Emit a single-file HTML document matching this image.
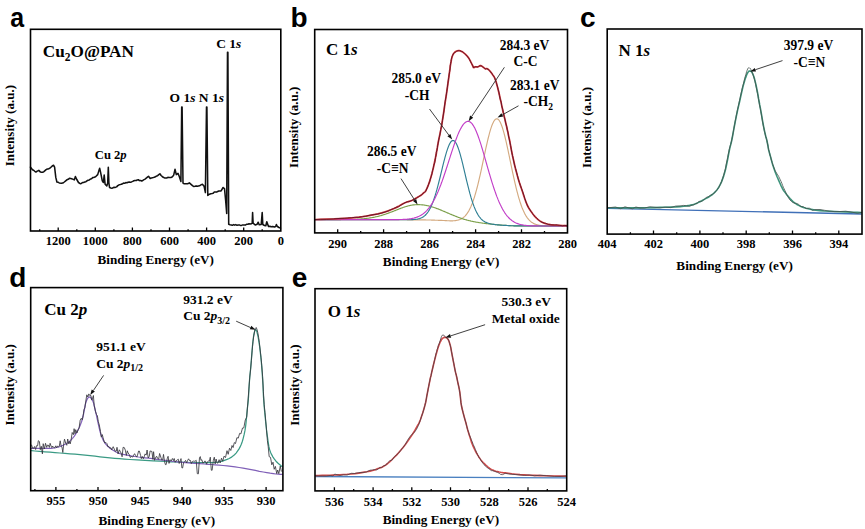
<!DOCTYPE html>
<html><head><meta charset="utf-8"><style>
html,body{margin:0;padding:0;background:#fff;}
svg{display:block;}
</style></head><body>
<svg width="865" height="529" viewBox="0 0 865 529">
<rect width="865" height="529" fill="#fff"/>
<text transform="translate(10.3,26.6) scale(0.89,1.02)" font-family="Liberation Sans" font-weight="bold" font-size="28">a</text>
<text x="42.8" y="56.9" font-family="Liberation Serif" font-weight="bold" font-size="17.2">Cu<tspan font-size="11.5" dy="3.8">2</tspan><tspan dy="-3.8">O@PAN</tspan></text>
<text x="216.2" y="48.3" font-family="Liberation Serif" font-weight="bold" font-size="13.5" text-anchor="start">C 1<tspan font-style="italic">s</tspan></text>
<text x="169.5" y="101.8" font-family="Liberation Serif" font-weight="bold" font-size="13.5" text-anchor="start">O 1<tspan font-style="italic">s</tspan> N 1<tspan font-style="italic">s</tspan></text>
<text x="94.8" y="158.6" font-family="Liberation Serif" font-weight="bold" font-size="12.6" text-anchor="start">Cu 2<tspan font-style="italic">p</tspan></text>
<polyline points="30.5,167.2 32.5,169.7 33.6,170.2 34.8,171.3 35.9,172 37.3,171.1 38.8,170.4 40.5,172.1 41.6,172.3 42.7,172.3 43.9,171.6 45,170.6 46.1,169.6 47.3,169 48.4,168.9 49.8,168.3 51.2,167 52.4,165.9 53.5,165.2 54.6,167.2 55.8,177.4 56.9,182 58,182.2 59.2,182.9 61.4,183.3 62.8,183.1 64.3,182 65.7,180.8 67.1,179.7 68.2,179.3 69.4,178.3 70.8,178.6 72.2,178.9 74.3,179.9 75.4,176.5 76.8,179.5 78.5,182.5 80.2,183.7 81.3,183.4 82.5,182.6 83.6,182.5 84.7,182.1 85.9,181.7 87,180.8 88.1,180.3 89.3,179.9 90.4,179.1 91.5,178.7 92.7,177.6 93.8,177.4 94.9,177.1 96,176.3 97.7,174.6 98.9,170.6 99.7,168.3 100.6,172.3 102.3,180.8 103.4,182.5 104.2,175.1 105.1,184.2 106.8,185.9 107.7,183.1 108.3,167.2 108.9,183.1 109.6,187.6 110.8,188 111.9,188.2 113,187.8 114.2,187.2 115.3,187.4 116.6,186.9 117.8,185.6 119.1,184.8 120.2,184.6 121.3,184.3 122.5,183.7 123.6,183.1 124.7,183.3 125.8,182.6 127,182.7 128.1,182.2 129.2,182 130.4,182.2 131.5,181.9 132.7,181.4 133.8,180.8 135,180.5 136.1,180.6 137.2,179.9 138.3,179.7 139.4,180.6 140.6,180.5 141.7,181 142.8,180.5 144,179.6 145.1,179.1 146.2,178.2 147.4,177.1 148.5,176.3 150.2,178.5 151.6,177.9 153.1,177.6 154.2,177.2 155.4,176.7 156.5,176.1 157.6,175.7 158.8,174.7 159.9,173.8 161.1,175.5 162.2,176.5 163.3,177.3 164.5,177.9 165.6,178 166.7,178 167.9,177.3 169,177.4 170.1,177.5 171.3,177.4 172.4,176.8 173.7,175.1 175,169.3 176.3,174.6 178,173.4 179.2,176.3 180.9,181.4 181.7,107 182.1,107 183,183.1 184.2,183.8 185.4,183.7 186.6,183.8 187.7,183.7 189.4,182.9 191.6,184.8 192.8,185.8 193.9,186.5 195,186.3 196.1,185.9 197.2,186.3 198.4,186 199.5,185.8 200.9,184.9 202.4,184.3 204.1,186.3 205.4,192.6 206.5,107 206.9,107 207.8,195.4 209.4,194.2 210.9,193.7 212,193.6 213.2,193.3 214.3,192.1 215.4,192 216.5,192.1 217.7,191.5 218.8,191 220,190.9 221.1,190.9 223.1,187.5 224.5,188.6 225.6,199.9 226.7,213.5 227.5,52.3 227.9,52.3 228.7,224.3 230,224.8 231.3,224.9 232.4,225.3 233.6,224.6 234.7,225.1 235.8,224.6 237,225.3 238.1,225.1 239.2,224.9 240.4,225.4 241.5,225.4 242.7,224.9 243.8,224.9 245.2,225.1 246.5,224.3 247.9,224.2 249,223.7 250.2,224 251.3,223.8 252.2,223.2 252.6,212.6 253.1,223.2 255.2,225 257.2,224.2 258.2,222.2 259.2,224.8 261.2,224.5 262.2,212.6 262.8,224.5 264.5,225.5 265.8,225.8 266.8,221.8 267.5,223.8 268.5,226.5 269.8,226.2 271.1,226.8 272.8,226.6 274.4,227 275.7,226.5 276.4,224.5 277.4,226.5 279,227.5 280.4,228.1" fill="none" stroke="#111" stroke-width="1.55" stroke-linejoin="round" stroke-linecap="round"/>
<rect x="30.5" y="29.3" width="250.3" height="201.7" fill="none" stroke="#000" stroke-width="1.6"/>
<path d="M262.2,231v-1.8 M243.7,231v-3.6 M225.2,231v-1.8 M206.6,231v-3.6 M188.1,231v-1.8 M169.5,231v-3.6 M151,231v-1.8 M132.4,231v-3.6 M113.9,231v-1.8 M95.3,231v-3.6 M76.8,231v-1.8 M58.2,231v-3.6 M39.7,231v-1.8" stroke="#000" stroke-width="1.3" fill="none"/>
<text x="58.2" y="245" font-family="Liberation Serif" font-weight="bold" font-size="12.5" text-anchor="middle">1200</text>
<text x="95.3" y="245" font-family="Liberation Serif" font-weight="bold" font-size="12.5" text-anchor="middle">1000</text>
<text x="132.4" y="245" font-family="Liberation Serif" font-weight="bold" font-size="12.5" text-anchor="middle">800</text>
<text x="169.5" y="245" font-family="Liberation Serif" font-weight="bold" font-size="12.5" text-anchor="middle">600</text>
<text x="206.6" y="245" font-family="Liberation Serif" font-weight="bold" font-size="12.5" text-anchor="middle">400</text>
<text x="243.7" y="245" font-family="Liberation Serif" font-weight="bold" font-size="12.5" text-anchor="middle">200</text>
<text x="280.8" y="245" font-family="Liberation Serif" font-weight="bold" font-size="12.5" text-anchor="middle">0</text>
<text x="155.7" y="263.8" font-family="Liberation Serif" font-weight="bold" font-size="13.2" text-anchor="middle">Binding Energy (eV)</text>
<text transform="translate(13.9,166.3) rotate(-90)" font-family="Liberation Serif" font-weight="bold" font-size="13">Intensity (a.u.)</text>
<text x="290.6" y="26.8" font-family="Liberation Sans" font-weight="bold" font-size="28">b</text>
<text x="326" y="55.4" font-family="Liberation Serif" font-weight="bold" font-size="17" text-anchor="start">C 1<tspan font-style="italic">s</tspan></text>
<polyline points="315.5,219.6 316,219.6 316.5,219.6 317,219.6 317.5,219.6 318,219.6 318.5,219.6 319,219.6 319.5,219.6 320,219.6 320.5,219.6 321,219.6 321.5,219.6 322,219.6 322.5,219.6 323,219.6 323.5,219.6 324,219.6 324.5,219.6 325,219.6 325.5,219.6 326,219.6 326.5,219.6 327,219.6 327.5,219.6 328,219.6 328.5,219.6 329,219.6 329.5,219.6 330,219.6 330.5,219.6 331,219.6 331.5,219.6 332,219.6 332.5,219.6 333,219.6 333.5,219.6 334,219.6 334.5,219.6 335,219.6 335.5,219.6 336,219.6 336.5,219.6 337,219.6 337.5,219.6 338,219.6 338.5,219.6 339,219.6 339.5,219.6 340,219.6 340.5,219.6 341,219.6 341.5,219.6 342,219.6 342.5,219.6 343,219.6 343.5,219.6 344,219.6 344.5,219.6 345,219.6 345.5,219.6 346,219.6 346.5,219.6 347,219.6 347.5,219.6 348,219.6 348.5,219.6 349,219.6 349.5,219.6 350,219.6 350.5,219.6 351,219.6 351.5,219.6 352,219.6 352.5,219.6 353,219.6 353.5,219.6 354,219.6 354.5,219.6 355,219.6 355.5,219.6 356,219.6 356.5,219.6 357,219.6 357.5,219.6 358,219.6 358.5,219.6 359,219.6 359.5,219.6 360,219.6 360.5,219.6 361,219.6 361.5,219.6 362,219.6 362.5,219.6 363,219.6 363.5,219.6 364,219.6 364.5,219.6 365,219.6 365.5,219.6 366,219.6 366.5,219.6 367,219.6 367.5,219.6 368,219.6 368.5,219.6 369,219.6 369.5,219.6 370,219.6 370.5,219.6 371,219.6 371.5,219.6 372,219.6 372.5,219.6 373,219.6 373.5,219.6 374,219.6 374.5,219.6 375,219.6 375.5,219.6 376,219.6 376.5,219.6 377,219.6 377.5,219.6 378,219.6 378.5,219.6 379,219.6 379.5,219.6 380,219.6 380.5,219.6 381,219.6 381.5,219.6 382,219.6 382.5,219.6 383,219.6 383.5,219.6 384,219.6 384.5,219.6 385,219.6 385.5,219.6 386,219.6 386.5,219.6 387,219.6 387.5,219.6 388,219.6 388.5,219.6 389,219.6 389.5,219.6 390,219.7 390.5,219.7 391,219.7 391.5,219.7 392,219.7 392.5,219.7 393,219.7 393.5,219.7 394,219.7 394.5,219.7 395,219.7 395.5,219.7 396,219.7 396.5,219.7 397,219.7 397.5,219.7 398,219.7 398.5,219.7 399,219.7 399.5,219.7 400,219.7 400.5,219.7 401,219.7 401.5,219.7 402,219.7 402.5,219.7 403,219.7 403.5,219.7 404,219.7 404.5,219.7 405,219.7 405.5,219.7 406,219.7 406.5,219.7 407,219.8 407.5,219.8 408,219.8 408.5,219.8 409,219.8 409.5,219.8 410,219.8 410.5,219.8 411,219.8 411.5,219.8 412,219.8 412.5,219.8 413,219.8 413.5,219.8 414,219.8 414.5,219.8 415,219.8 415.5,219.8 416,219.8 416.5,219.8 417,219.8 417.5,219.8 418,219.9 418.5,219.9 419,219.9 419.5,219.9 420,219.9 420.5,219.9 421,219.9 421.5,219.9 422,219.9 422.5,219.9 423,219.9 423.5,219.9 424,219.9 424.5,219.9 425,219.9 425.5,219.9 426,220 426.5,220 427,220 427.5,220 428,220 428.5,220 429,220 429.5,220 430,220 430.5,220 431,220 431.5,220.1 432,220.1 432.5,220.1 433,220.1 433.5,220.1 434,220.1 434.5,220.1 435,220.2 435.5,220.2 436,220.2 436.5,220.2 437,220.2 437.5,220.2 438,220.3 438.5,220.3 439,220.3 439.5,220.3 440,220.3 440.5,220.4 441,220.4 441.5,220.4 442,220.4 442.5,220.5 443,220.5 443.5,220.5 444,220.5 444.5,220.5 445,220.6 445.5,220.6 446,220.6 446.5,220.6 447,220.7 447.5,220.7 448,220.7 448.5,220.7 449,220.7 449.5,220.8 450,220.8 450.5,220.8 451,220.8 451.5,220.8 452,220.8 452.5,220.8 453,220.8 453.5,220.7 454,220.7 454.5,220.7 455,220.6 455.5,220.6 456,220.5 456.5,220.4 457,220.3 457.5,220.2 458,220.1 458.5,220 459,219.8 459.5,219.7 460,219.5 460.5,219.3 461,219 461.5,218.8 462,218.5 462.5,218.2 463,217.8 463.5,217.4 464,217 464.5,216.6 465,216.1 465.5,215.5 466,215 466.5,214.3 467,213.7 467.5,212.9 468,212.2 468.5,211.4 469,210.5 469.5,209.5 470,208.5 470.5,207.5 471,206.4 471.5,205.2 472,204 472.5,202.7 473,201.3 473.5,199.9 474,198.4 474.5,196.8 475,195.2 475.5,193.5 476,191.7 476.5,189.9 477,188 477.5,186.1 478,184.1 478.5,182 479,179.9 479.5,177.7 480,175.6 480.5,173.3 481,171.1 481.5,168.8 482,166.4 482.5,164.1 483,161.7 483.5,159.4 484,157 484.5,154.7 485,152.3 485.5,150 486,147.7 486.5,145.5 487,143.3 487.5,141.1 488,139 488.5,137 489,135.1 489.5,133.2 490,131.4 490.5,129.7 491,128.1 491.5,126.6 492,125.3 492.5,124 493,122.9 493.5,121.9 494,121 494.5,120.3 495,119.7 495.5,119.3 496,119 496.5,118.8 497,118.8 497.5,118.9 498,119.2 498.5,119.7 499,120.2 499.5,121 500,121.8 500.5,122.8 501,123.9 501.5,125.2 502,126.5 502.5,128 503,129.6 503.5,131.3 504,133.1 504.5,135 505,137 505.5,139.1 506,141.2 506.5,143.4 507,145.6 507.5,147.9 508,150.2 508.5,152.6 509,155 509.5,157.4 510,159.8 510.5,162.2 511,164.6 511.5,167 512,169.4 512.5,171.8 513,174.1 513.5,176.4 514,178.7 514.5,180.9 515,183.1 515.5,185.2 516,187.3 516.5,189.3 517,191.3 517.5,193.2 518,195.1 518.5,196.8 519,198.6 519.5,200.2 520,201.8 520.5,203.3 521,204.8 521.5,206.2 522,207.5 522.5,208.7 523,209.9 523.5,211.1 524,212.1 524.5,213.2 525,214.1 525.5,215 526,215.9 526.5,216.7 527,217.4 527.5,218.1 528,218.7 528.5,219.4 529,219.9 529.5,220.4 530,220.9 530.5,221.4 531,221.8 531.5,222.2 532,222.5 532.5,222.8 533,223.1 533.5,223.4 534,223.7 534.5,223.9 535,224.1 535.5,224.3 536,224.5 536.5,224.6 537,224.8 537.5,224.9 538,225 538.5,225.1 539,225.2 539.5,225.3 540,225.4 540.5,225.5 541,225.5 541.5,225.6 542,225.6 542.5,225.7 543,225.7 543.5,225.7 544,225.8 544.5,225.8 545,225.8 545.5,225.8 546,225.9 546.5,225.9 547,225.9 547.5,225.9 548,225.9 548.5,225.9 549,225.9 549.5,226 550,226 550.5,226 551,226 551.5,226 552,226 552.5,226 553,226 553.5,226 554,226 554.5,226 555,226 555.5,226 556,226 556.5,226 557,226 557.5,226 558,226 558.5,226 559,226 559.5,226 560,226 560.5,226 561,226 561.5,226 562,226 562.5,226 563,226 563.5,226 564,226 564.5,226 565,226 565.5,226 566,226 566.5,226" fill="none" stroke="#d4aa80" stroke-width="1.15" stroke-linejoin="round" stroke-linecap="round"/>
<polyline points="315.5,219.6 316,219.6 316.5,219.6 317,219.6 317.5,219.6 318,219.6 318.5,219.6 319,219.6 319.5,219.6 320,219.6 320.5,219.6 321,219.6 321.5,219.6 322,219.6 322.5,219.6 323,219.6 323.5,219.6 324,219.6 324.5,219.6 325,219.6 325.5,219.6 326,219.6 326.5,219.6 327,219.6 327.5,219.6 328,219.6 328.5,219.6 329,219.6 329.5,219.6 330,219.6 330.5,219.6 331,219.6 331.5,219.6 332,219.6 332.5,219.6 333,219.6 333.5,219.6 334,219.6 334.5,219.6 335,219.6 335.5,219.6 336,219.6 336.5,219.6 337,219.6 337.5,219.6 338,219.6 338.5,219.6 339,219.6 339.5,219.6 340,219.6 340.5,219.6 341,219.5 341.5,219.5 342,219.5 342.5,219.5 343,219.5 343.5,219.5 344,219.5 344.5,219.5 345,219.5 345.5,219.5 346,219.5 346.5,219.5 347,219.5 347.5,219.5 348,219.5 348.5,219.5 349,219.4 349.5,219.4 350,219.4 350.5,219.4 351,219.4 351.5,219.4 352,219.4 352.5,219.4 353,219.3 353.5,219.3 354,219.3 354.5,219.3 355,219.3 355.5,219.2 356,219.2 356.5,219.2 357,219.2 357.5,219.1 358,219.1 358.5,219.1 359,219.1 359.5,219 360,219 360.5,219 361,218.9 361.5,218.9 362,218.9 362.5,218.8 363,218.8 363.5,218.7 364,218.7 364.5,218.6 365,218.6 365.5,218.5 366,218.5 366.5,218.4 367,218.4 367.5,218.3 368,218.2 368.5,218.2 369,218.1 369.5,218 370,217.9 370.5,217.9 371,217.8 371.5,217.7 372,217.6 372.5,217.5 373,217.4 373.5,217.3 374,217.3 374.5,217.2 375,217 375.5,216.9 376,216.8 376.5,216.7 377,216.6 377.5,216.5 378,216.4 378.5,216.2 379,216.1 379.5,216 380,215.8 380.5,215.7 381,215.6 381.5,215.4 382,215.3 382.5,215.1 383,215 383.5,214.8 384,214.6 384.5,214.5 385,214.3 385.5,214.2 386,214 386.5,213.8 387,213.6 387.5,213.5 388,213.3 388.5,213.1 389,212.9 389.5,212.7 390,212.5 390.5,212.3 391,212.1 391.5,212 392,211.8 392.5,211.6 393,211.4 393.5,211.2 394,211 394.5,210.8 395,210.6 395.5,210.4 396,210.2 396.5,210 397,209.8 397.5,209.6 398,209.4 398.5,209.2 399,209 399.5,208.8 400,208.6 400.5,208.4 401,208.2 401.5,208 402,207.9 402.5,207.7 403,207.5 403.5,207.3 404,207.2 404.5,207 405,206.8 405.5,206.7 406,206.5 406.5,206.4 407,206.2 407.5,206.1 408,206 408.5,205.8 409,205.7 409.5,205.6 410,205.5 410.5,205.4 411,205.3 411.5,205.2 412,205.1 412.5,205 413,204.9 413.5,204.9 414,204.8 414.5,204.8 415,204.7 415.5,204.7 416,204.7 416.5,204.6 417,204.6 417.5,204.6 418,204.6 418.5,204.6 419,204.6 419.5,204.6 420,204.7 420.5,204.7 421,204.7 421.5,204.8 422,204.8 422.5,204.9 423,204.9 423.5,205 424,205 424.5,205.1 425,205.2 425.5,205.3 426,205.4 426.5,205.5 427,205.6 427.5,205.7 428,205.8 428.5,205.9 429,206 429.5,206.2 430,206.3 430.5,206.4 431,206.6 431.5,206.7 432,206.9 432.5,207 433,207.2 433.5,207.3 434,207.5 434.5,207.7 435,207.8 435.5,208 436,208.2 436.5,208.4 437,208.6 437.5,208.8 438,208.9 438.5,209.1 439,209.3 439.5,209.5 440,209.7 440.5,209.9 441,210.1 441.5,210.3 442,210.6 442.5,210.8 443,211 443.5,211.2 444,211.4 444.5,211.6 445,211.8 445.5,212 446,212.2 446.5,212.5 447,212.7 447.5,212.9 448,213.1 448.5,213.3 449,213.5 449.5,213.8 450,214 450.5,214.2 451,214.4 451.5,214.6 452,214.8 452.5,215 453,215.2 453.5,215.4 454,215.6 454.5,215.8 455,216 455.5,216.2 456,216.4 456.5,216.6 457,216.8 457.5,217 458,217.2 458.5,217.4 459,217.5 459.5,217.7 460,217.9 460.5,218.1 461,218.2 461.5,218.4 462,218.6 462.5,218.7 463,218.9 463.5,219.1 464,219.2 464.5,219.4 465,219.5 465.5,219.7 466,219.8 466.5,219.9 467,220.1 467.5,220.2 468,220.3 468.5,220.5 469,220.6 469.5,220.7 470,220.8 470.5,220.9 471,221.1 471.5,221.2 472,221.3 472.5,221.4 473,221.5 473.5,221.6 474,221.7 474.5,221.8 475,221.9 475.5,222 476,222.1 476.5,222.2 477,222.2 477.5,222.3 478,222.4 478.5,222.5 479,222.6 479.5,222.7 480,222.7 480.5,222.8 481,222.9 481.5,223 482,223 482.5,223.1 483,223.2 483.5,223.2 484,223.3 484.5,223.4 485,223.4 485.5,223.5 486,223.6 486.5,223.6 487,223.7 487.5,223.7 488,223.8 488.5,223.9 489,223.9 489.5,224 490,224 490.5,224.1 491,224.1 491.5,224.2 492,224.2 492.5,224.3 493,224.3 493.5,224.4 494,224.4 494.5,224.5 495,224.5 495.5,224.6 496,224.6 496.5,224.7 497,224.7 497.5,224.8 498,224.8 498.5,224.9 499,224.9 499.5,224.9 500,225 500.5,225 501,225.1 501.5,225.1 502,225.1 502.5,225.2 503,225.2 503.5,225.3 504,225.3 504.5,225.3 505,225.3 505.5,225.4 506,225.4 506.5,225.4 507,225.5 507.5,225.5 508,225.5 508.5,225.5 509,225.6 509.5,225.6 510,225.6 510.5,225.6 511,225.7 511.5,225.7 512,225.7 512.5,225.7 513,225.7 513.5,225.8 514,225.8 514.5,225.8 515,225.8 515.5,225.8 516,225.8 516.5,225.8 517,225.8 517.5,225.9 518,225.9 518.5,225.9 519,225.9 519.5,225.9 520,225.9 520.5,225.9 521,225.9 521.5,225.9 522,225.9 522.5,225.9 523,225.9 523.5,225.9 524,225.9 524.5,226 525,226 525.5,226 526,226 526.5,226 527,226 527.5,226 528,226 528.5,226 529,226 529.5,226 530,226 530.5,226 531,226 531.5,226 532,226 532.5,226 533,226 533.5,226 534,226 534.5,226 535,226 535.5,226 536,226 536.5,226 537,226 537.5,226 538,226 538.5,226 539,226 539.5,226 540,226 540.5,226 541,226 541.5,226 542,226 542.5,226 543,226 543.5,226 544,226 544.5,226 545,226 545.5,226 546,226 546.5,226 547,226 547.5,226 548,226 548.5,226 549,226 549.5,226 550,226 550.5,226 551,226 551.5,226 552,226 552.5,226 553,226 553.5,226 554,226 554.5,226 555,226 555.5,226 556,226 556.5,226 557,226 557.5,226 558,226 558.5,226 559,226 559.5,226 560,226 560.5,226 561,226 561.5,226 562,226 562.5,226 563,226 563.5,226 564,226 564.5,226 565,226 565.5,226 566,226 566.5,226" fill="none" stroke="#7a9e48" stroke-width="1.15" stroke-linejoin="round" stroke-linecap="round"/>
<polyline points="315.5,219.6 316,219.6 316.5,219.6 317,219.6 317.5,219.6 318,219.6 318.5,219.6 319,219.6 319.5,219.6 320,219.6 320.5,219.6 321,219.6 321.5,219.6 322,219.6 322.5,219.6 323,219.6 323.5,219.6 324,219.6 324.5,219.6 325,219.6 325.5,219.6 326,219.6 326.5,219.6 327,219.6 327.5,219.6 328,219.6 328.5,219.6 329,219.6 329.5,219.6 330,219.6 330.5,219.6 331,219.6 331.5,219.6 332,219.6 332.5,219.6 333,219.6 333.5,219.6 334,219.6 334.5,219.6 335,219.6 335.5,219.6 336,219.6 336.5,219.6 337,219.6 337.5,219.6 338,219.6 338.5,219.6 339,219.6 339.5,219.6 340,219.6 340.5,219.6 341,219.6 341.5,219.6 342,219.6 342.5,219.6 343,219.6 343.5,219.6 344,219.6 344.5,219.6 345,219.6 345.5,219.6 346,219.6 346.5,219.6 347,219.6 347.5,219.6 348,219.6 348.5,219.6 349,219.6 349.5,219.6 350,219.6 350.5,219.6 351,219.6 351.5,219.6 352,219.6 352.5,219.6 353,219.6 353.5,219.6 354,219.6 354.5,219.6 355,219.6 355.5,219.6 356,219.6 356.5,219.6 357,219.6 357.5,219.6 358,219.6 358.5,219.6 359,219.6 359.5,219.6 360,219.6 360.5,219.6 361,219.6 361.5,219.6 362,219.6 362.5,219.6 363,219.6 363.5,219.6 364,219.6 364.5,219.6 365,219.6 365.5,219.6 366,219.6 366.5,219.6 367,219.6 367.5,219.6 368,219.6 368.5,219.6 369,219.6 369.5,219.6 370,219.6 370.5,219.6 371,219.6 371.5,219.6 372,219.6 372.5,219.6 373,219.6 373.5,219.6 374,219.6 374.5,219.6 375,219.6 375.5,219.6 376,219.6 376.5,219.6 377,219.6 377.5,219.6 378,219.6 378.5,219.6 379,219.6 379.5,219.6 380,219.6 380.5,219.6 381,219.6 381.5,219.6 382,219.6 382.5,219.6 383,219.6 383.5,219.6 384,219.6 384.5,219.6 385,219.6 385.5,219.6 386,219.6 386.5,219.6 387,219.6 387.5,219.6 388,219.6 388.5,219.6 389,219.6 389.5,219.6 390,219.7 390.5,219.7 391,219.7 391.5,219.7 392,219.7 392.5,219.7 393,219.7 393.5,219.7 394,219.7 394.5,219.7 395,219.7 395.5,219.7 396,219.7 396.5,219.7 397,219.7 397.5,219.7 398,219.7 398.5,219.7 399,219.7 399.5,219.7 400,219.7 400.5,219.7 401,219.7 401.5,219.7 402,219.7 402.5,219.7 403,219.7 403.5,219.7 404,219.7 404.5,219.7 405,219.7 405.5,219.7 406,219.7 406.5,219.7 407,219.7 407.5,219.7 408,219.7 408.5,219.7 409,219.7 409.5,219.7 410,219.7 410.5,219.7 411,219.7 411.5,219.6 412,219.6 412.5,219.6 413,219.6 413.5,219.5 414,219.5 414.5,219.5 415,219.4 415.5,219.4 416,219.3 416.5,219.2 417,219.2 417.5,219.1 418,219 418.5,218.8 419,218.7 419.5,218.6 420,218.4 420.5,218.2 421,218 421.5,217.8 422,217.6 422.5,217.3 423,217 423.5,216.7 424,216.3 424.5,215.9 425,215.5 425.5,215 426,214.5 426.5,213.9 427,213.3 427.5,212.7 428,212 428.5,211.2 429,210.4 429.5,209.6 430,208.6 430.5,207.7 431,206.6 431.5,205.5 432,204.3 432.5,203.1 433,201.8 433.5,200.4 434,199 434.5,197.5 435,196 435.5,194.3 436,192.7 436.5,190.9 437,189.2 437.5,187.3 438,185.4 438.5,183.5 439,181.5 439.5,179.5 440,177.5 440.5,175.5 441,173.4 441.5,171.4 442,169.3 442.5,167.2 443,165.2 443.5,163.2 444,161.2 444.5,159.3 445,157.4 445.5,155.6 446,153.8 446.5,152.1 447,150.6 447.5,149.1 448,147.7 448.5,146.4 449,145.2 449.5,144.1 450,143.2 450.5,142.4 451,141.7 451.5,141.2 452,140.8 452.5,140.6 453,140.5 453.5,140.6 454,140.8 454.5,141.1 455,141.6 455.5,142.3 456,143 456.5,144 457,145 457.5,146.2 458,147.5 458.5,148.9 459,150.4 459.5,152 460,153.7 460.5,155.4 461,157.3 461.5,159.2 462,161.2 462.5,163.2 463,165.2 463.5,167.3 464,169.4 464.5,171.6 465,173.7 465.5,175.8 466,178 466.5,180.1 467,182.1 467.5,184.2 468,186.2 468.5,188.2 469,190.1 469.5,192 470,193.9 470.5,195.6 471,197.4 471.5,199 472,200.6 472.5,202.2 473,203.6 473.5,205 474,206.4 474.5,207.6 475,208.8 475.5,210 476,211.1 476.5,212.1 477,213 477.5,213.9 478,214.8 478.5,215.6 479,216.3 479.5,217 480,217.6 480.5,218.2 481,218.8 481.5,219.3 482,219.8 482.5,220.2 483,220.6 483.5,221 484,221.3 484.5,221.6 485,221.9 485.5,222.2 486,222.4 486.5,222.6 487,222.8 487.5,223 488,223.2 488.5,223.3 489,223.5 489.5,223.6 490,223.7 490.5,223.8 491,224 491.5,224 492,224.1 492.5,224.2 493,224.3 493.5,224.4 494,224.4 494.5,224.5 495,224.6 495.5,224.6 496,224.7 496.5,224.7 497,224.8 497.5,224.8 498,224.9 498.5,224.9 499,225 499.5,225 500,225.1 500.5,225.1 501,225.1 501.5,225.2 502,225.2 502.5,225.2 503,225.3 503.5,225.3 504,225.3 504.5,225.4 505,225.4 505.5,225.4 506,225.4 506.5,225.5 507,225.5 507.5,225.5 508,225.6 508.5,225.6 509,225.6 509.5,225.6 510,225.6 510.5,225.7 511,225.7 511.5,225.7 512,225.7 512.5,225.7 513,225.7 513.5,225.8 514,225.8 514.5,225.8 515,225.8 515.5,225.8 516,225.8 516.5,225.8 517,225.9 517.5,225.9 518,225.9 518.5,225.9 519,225.9 519.5,225.9 520,225.9 520.5,225.9 521,225.9 521.5,225.9 522,225.9 522.5,225.9 523,225.9 523.5,225.9 524,226 524.5,226 525,226 525.5,226 526,226 526.5,226 527,226 527.5,226 528,226 528.5,226 529,226 529.5,226 530,226 530.5,226 531,226 531.5,226 532,226 532.5,226 533,226 533.5,226 534,226 534.5,226 535,226 535.5,226 536,226 536.5,226 537,226 537.5,226 538,226 538.5,226 539,226 539.5,226 540,226 540.5,226 541,226 541.5,226 542,226 542.5,226 543,226 543.5,226 544,226 544.5,226 545,226 545.5,226 546,226 546.5,226 547,226 547.5,226 548,226 548.5,226 549,226 549.5,226 550,226 550.5,226 551,226 551.5,226 552,226 552.5,226 553,226 553.5,226 554,226 554.5,226 555,226 555.5,226 556,226 556.5,226 557,226 557.5,226 558,226 558.5,226 559,226 559.5,226 560,226 560.5,226 561,226 561.5,226 562,226 562.5,226 563,226 563.5,226 564,226 564.5,226 565,226 565.5,226 566,226 566.5,226" fill="none" stroke="#2f7f94" stroke-width="1.15" stroke-linejoin="round" stroke-linecap="round"/>
<polyline points="315.5,219.6 316,219.6 316.5,219.6 317,219.6 317.5,219.6 318,219.6 318.5,219.6 319,219.6 319.5,219.6 320,219.6 320.5,219.6 321,219.6 321.5,219.6 322,219.6 322.5,219.6 323,219.6 323.5,219.6 324,219.6 324.5,219.6 325,219.6 325.5,219.6 326,219.6 326.5,219.6 327,219.6 327.5,219.6 328,219.6 328.5,219.6 329,219.6 329.5,219.6 330,219.6 330.5,219.6 331,219.6 331.5,219.6 332,219.6 332.5,219.6 333,219.6 333.5,219.6 334,219.6 334.5,219.6 335,219.6 335.5,219.6 336,219.6 336.5,219.6 337,219.6 337.5,219.6 338,219.6 338.5,219.6 339,219.6 339.5,219.6 340,219.6 340.5,219.6 341,219.6 341.5,219.6 342,219.6 342.5,219.6 343,219.6 343.5,219.6 344,219.6 344.5,219.6 345,219.6 345.5,219.6 346,219.6 346.5,219.6 347,219.6 347.5,219.6 348,219.6 348.5,219.6 349,219.6 349.5,219.6 350,219.6 350.5,219.6 351,219.6 351.5,219.6 352,219.6 352.5,219.6 353,219.6 353.5,219.6 354,219.6 354.5,219.6 355,219.6 355.5,219.6 356,219.6 356.5,219.6 357,219.6 357.5,219.6 358,219.6 358.5,219.6 359,219.6 359.5,219.6 360,219.6 360.5,219.6 361,219.6 361.5,219.6 362,219.6 362.5,219.6 363,219.6 363.5,219.6 364,219.6 364.5,219.6 365,219.6 365.5,219.6 366,219.6 366.5,219.6 367,219.6 367.5,219.6 368,219.6 368.5,219.6 369,219.6 369.5,219.6 370,219.6 370.5,219.6 371,219.6 371.5,219.6 372,219.6 372.5,219.6 373,219.6 373.5,219.6 374,219.6 374.5,219.6 375,219.6 375.5,219.6 376,219.6 376.5,219.6 377,219.6 377.5,219.6 378,219.6 378.5,219.6 379,219.6 379.5,219.6 380,219.6 380.5,219.6 381,219.6 381.5,219.6 382,219.6 382.5,219.6 383,219.6 383.5,219.6 384,219.6 384.5,219.6 385,219.6 385.5,219.6 386,219.6 386.5,219.6 387,219.6 387.5,219.6 388,219.6 388.5,219.6 389,219.6 389.5,219.6 390,219.6 390.5,219.6 391,219.6 391.5,219.6 392,219.6 392.5,219.6 393,219.6 393.5,219.6 394,219.6 394.5,219.6 395,219.6 395.5,219.6 396,219.6 396.5,219.6 397,219.6 397.5,219.6 398,219.6 398.5,219.6 399,219.6 399.5,219.5 400,219.5 400.5,219.5 401,219.5 401.5,219.5 402,219.5 402.5,219.5 403,219.4 403.5,219.4 404,219.4 404.5,219.4 405,219.3 405.5,219.3 406,219.3 406.5,219.2 407,219.2 407.5,219.1 408,219.1 408.5,219 409,219 409.5,218.9 410,218.8 410.5,218.8 411,218.7 411.5,218.6 412,218.5 412.5,218.4 413,218.3 413.5,218.2 414,218.1 414.5,217.9 415,217.8 415.5,217.6 416,217.5 416.5,217.3 417,217.1 417.5,216.9 418,216.7 418.5,216.5 419,216.3 419.5,216 420,215.8 420.5,215.5 421,215.2 421.5,214.9 422,214.6 422.5,214.2 423,213.9 423.5,213.5 424,213.1 424.5,212.7 425,212.3 425.5,211.8 426,211.3 426.5,210.8 427,210.3 427.5,209.7 428,209.1 428.5,208.5 429,207.9 429.5,207.3 430,206.6 430.5,205.9 431,205.1 431.5,204.4 432,203.6 432.5,202.7 433,201.9 433.5,201 434,200.1 434.5,199.1 435,198.2 435.5,197.2 436,196.1 436.5,195.1 437,194 437.5,192.8 438,191.7 438.5,190.5 439,189.3 439.5,188.1 440,186.8 440.5,185.5 441,184.2 441.5,182.8 442,181.5 442.5,180.1 443,178.7 443.5,177.2 444,175.8 444.5,174.3 445,172.8 445.5,171.3 446,169.8 446.5,168.2 447,166.7 447.5,165.1 448,163.6 448.5,162 449,160.4 449.5,158.9 450,157.3 450.5,155.7 451,154.2 451.5,152.6 452,151.1 452.5,149.6 453,148.1 453.5,146.6 454,145.1 454.5,143.7 455,142.3 455.5,140.9 456,139.5 456.5,138.2 457,136.9 457.5,135.6 458,134.4 458.5,133.2 459,132.1 459.5,131 460,130 460.5,129 461,128.1 461.5,127.2 462,126.4 462.5,125.6 463,124.9 463.5,124.2 464,123.7 464.5,123.1 465,122.7 465.5,122.3 466,122 466.5,121.7 467,121.5 467.5,121.4 468,121.4 468.5,121.4 469,121.5 469.5,121.7 470,121.9 470.5,122.3 471,122.7 471.5,123.2 472,123.7 472.5,124.4 473,125.1 473.5,125.9 474,126.7 474.5,127.6 475,128.6 475.5,129.7 476,130.8 476.5,132 477,133.2 477.5,134.5 478,135.8 478.5,137.2 479,138.6 479.5,140.1 480,141.6 480.5,143.1 481,144.7 481.5,146.3 482,148 482.5,149.7 483,151.3 483.5,153.1 484,154.8 484.5,156.5 485,158.3 485.5,160 486,161.8 486.5,163.5 487,165.3 487.5,167.1 488,168.8 488.5,170.5 489,172.3 489.5,174 490,175.7 490.5,177.4 491,179 491.5,180.7 492,182.3 492.5,183.9 493,185.4 493.5,187 494,188.5 494.5,190 495,191.4 495.5,192.8 496,194.2 496.5,195.6 497,196.9 497.5,198.1 498,199.4 498.5,200.6 499,201.8 499.5,202.9 500,204 500.5,205.1 501,206.1 501.5,207.1 502,208 502.5,209 503,209.9 503.5,210.7 504,211.5 504.5,212.3 505,213.1 505.5,213.8 506,214.5 506.5,215.1 507,215.8 507.5,216.4 508,216.9 508.5,217.5 509,218 509.5,218.5 510,219 510.5,219.4 511,219.8 511.5,220.2 512,220.6 512.5,221 513,221.3 513.5,221.6 514,221.9 514.5,222.2 515,222.5 515.5,222.7 516,223 516.5,223.2 517,223.4 517.5,223.6 518,223.8 518.5,223.9 519,224.1 519.5,224.2 520,224.4 520.5,224.5 521,224.6 521.5,224.7 522,224.8 522.5,224.9 523,225 523.5,225.1 524,225.2 524.5,225.2 525,225.3 525.5,225.4 526,225.4 526.5,225.5 527,225.5 527.5,225.6 528,225.6 528.5,225.6 529,225.7 529.5,225.7 530,225.7 530.5,225.8 531,225.8 531.5,225.8 532,225.8 532.5,225.8 533,225.8 533.5,225.9 534,225.9 534.5,225.9 535,225.9 535.5,225.9 536,225.9 536.5,225.9 537,225.9 537.5,225.9 538,225.9 538.5,226 539,226 539.5,226 540,226 540.5,226 541,226 541.5,226 542,226 542.5,226 543,226 543.5,226 544,226 544.5,226 545,226 545.5,226 546,226 546.5,226 547,226 547.5,226 548,226 548.5,226 549,226 549.5,226 550,226 550.5,226 551,226 551.5,226 552,226 552.5,226 553,226 553.5,226 554,226 554.5,226 555,226 555.5,226 556,226 556.5,226 557,226 557.5,226 558,226 558.5,226 559,226 559.5,226 560,226 560.5,226 561,226 561.5,226 562,226 562.5,226 563,226 563.5,226 564,226 564.5,226 565,226 565.5,226 566,226 566.5,226" fill="none" stroke="#c23ec8" stroke-width="1.15" stroke-linejoin="round" stroke-linecap="round"/>
<polyline points="315.5,219.5 320.1,219.3 326.8,219.1 334,218.9 340,218.6 344.4,218.4 348.1,218.2 351.5,217.9 355,217.6 358.8,217.2 362.5,216.7 366.3,216.1 370.1,215.4 374,214.6 377.9,213.8 381.7,212.9 385.2,211.9 388.2,210.9 391,209.8 393.5,208.7 396,207.6 398.4,206.4 400.7,205.1 402.9,203.8 405,202.8 407,202 409,201.4 410.8,200.9 412.4,200.3 413.8,199.6 415.1,198.8 416.2,198.1 417.3,197.4 418.3,196.8 419.3,196.3 420.2,195.8 421,195.2 421.8,194.6 422.6,193.9 423.3,193.2 424,192.6 424.5,192.2 424.9,191.9 425.3,191.5 425.9,190.5 426.7,188.9 427.6,186.8 428.6,184.4 429.5,181.9 430.3,179.3 431.1,176.6 431.9,173.7 432.6,170.9 433.3,168.1 433.9,165.3 434.5,162.5 435.1,159.8 435.6,157.2 436.1,154.8 436.5,152.4 436.9,150 437.3,147.9 437.6,145.9 438,143.7 438.5,141 439.2,137.6 440,133.7 440.9,129.4 441.7,125.1 442.4,120.6 443.2,115.8 443.9,111 444.6,106.2 445.3,101.3 446.1,96.4 446.8,91.6 447.4,87.3 447.9,83.6 448.4,80.3 448.8,77.2 449.2,74.3 449.6,71.4 450,68.6 450.3,66 450.7,63.6 451.1,61.5 451.4,59.6 451.8,58 452.2,56.5 452.7,55.2 453.2,54.2 453.8,53.3 454.5,52.5 455.4,51.8 456.3,51.2 457.4,50.8 458.3,50.6 459.2,50.6 460,50.8 460.8,51.1 461.5,51.4 462.1,51.6 462.5,51.9 463,52.2 463.7,52.8 464.7,53.7 465.8,54.7 467,55.9 468,57.1 468.8,58.3 469.6,59.6 470.3,60.9 470.9,62.1 471.4,63.1 471.9,64.1 472.3,65 472.7,65.7 473,66.4 473.2,66.9 473.4,67.4 473.7,67.6 474,67.6 474.3,67.3 474.7,67 475.2,66.8 475.8,66.8 476.5,66.8 477.3,66.9 478,66.8 478.7,66.5 479.3,66.1 480,65.7 480.6,65.6 481.2,65.8 481.9,66.2 482.5,66.7 483.1,67.1 483.7,67.5 484.2,68 484.7,68.4 485.2,68.7 485.7,68.8 486.2,68.7 486.8,68.6 487.4,68.8 488.1,69.3 488.8,69.9 489.6,70.7 490.3,71.5 491,72.3 491.6,73.2 492.2,74.1 492.8,75 493.4,75.8 493.9,76.5 494.4,77.4 495,78.6 495.6,80.3 496.2,82.3 496.8,84.5 497.5,87 498.2,89.7 498.9,92.7 499.6,95.8 500.3,99 501.1,102.4 501.8,105.9 502.6,109.5 503.4,113 504.2,116.4 505,119.8 505.8,123.2 506.6,126.5 507.3,129.7 508,132.8 508.6,135.8 509.3,139 510,142.3 510.6,145.8 511.2,149.2 511.9,152.5 512.5,155.7 513.2,158.7 513.9,161.8 514.6,165 515.4,168.4 516.4,172 517.3,175.5 518.3,179 519.3,182.3 520.4,185.6 521.5,188.8 522.6,192 523.7,195.4 524.8,198.8 526,202.1 527.2,205 528.5,207.5 529.8,209.7 531.1,211.6 532.5,213.5 533.9,215.3 535.3,216.9 536.7,218.3 538.1,219.6 539.4,220.6 540.5,221.4 541.7,222 543,222.6 544.3,223.1 545.7,223.6 547.2,224 548.8,224.3 550.6,224.6 552.6,224.8 554.8,225 557,225.2 559.6,225.3 562.4,225.5 565,225.5 566.8,225.6" fill="none" stroke="#d23a3a" stroke-width="1.75" stroke-linejoin="round" stroke-linecap="round"/>
<polyline points="315.4,219.6 320.2,219.3 326.7,219.3 334.1,218.9 340,218.4 344.3,218.3 348.1,217.9 351.6,217.8 354.9,217.3 358.9,217.3 362.7,216.7 366.2,216 370.1,215.2 374.1,214.6 377.8,214 381.6,213.1 385.2,211.9 388.2,210.9 390.9,209.6 393.6,208.6 396.1,207.4 398.6,206.6 400.8,205.2 402.9,204 404.9,202.8 407.1,201.8 409.1,201.7 410.7,200.8 412.4,200.2 414,199.5 414.9,198.6 416.3,198.4 417.3,197.4 418.3,197 419.2,196.3 420.2,195.8 420.9,195 421.8,194.8 422.6,194 423.3,193 423.9,192.8 424.6,192.1 425,192 425.5,191.7 425.9,190.8 426.8,188.9 427.7,186.8 428.6,184.2 429.6,181.7 430.2,179.5 431.2,176.5 432,173.4 432.5,170.8 433.3,167.9 433.8,165.2 434.7,162.8 435.2,159.8 435.5,157.5 436.1,154.9 436.3,152.2 437,150.2 437.4,147.9 437.6,145.9 438.1,143.6 438.5,140.9 439.3,137.3 440.1,133.9 440.7,129.5 441.7,125.3 442.5,120.4 443.1,116.1 444,110.8 444.5,106 445.2,101.3 446,96.6 446.8,91.4 447.4,87.2 447.9,83.4 448.3,80.1 448.8,77.4 449.2,74 449.7,71.6 450.1,68.8 450.2,65.9 450.6,63.8 451,61.6 451.3,59.7 451.7,57.7 452.2,56.4 452.8,55.1 453.2,54.2 453.9,53 454.5,52.5 455.4,52.1 456.3,51.4 457.4,50.9 458.2,50.8 459.3,50.5 459.9,51.1 460.7,50.8 461.4,51.6 462.1,51.6 462.6,51.6 463.1,52.2 463.7,52.7 464.6,53.5 465.7,54.7 466.9,56 468.1,57.2 468.8,58.2 469.6,59.6 470.3,61.2 470.8,62.1 471.4,63.3 472,64.3 472.4,65.1 472.8,65.9 473.1,66.5 473.1,67.2 473.4,67.4 473.8,67.9 474.2,67.3 474.3,67.2 474.7,66.8 475.2,66.5 475.8,67 476.6,66.8 477.2,67.1 478.1,66.6 478.6,66.6 479.4,66 480.1,65.6 480.5,65.8 481.1,65.9 481.8,66.2 482.4,66.6 483.2,67.1 483.6,67.6 484.1,67.8 484.6,68.3 485.1,69 485.6,69 486.4,68.8 486.7,68.6 487.3,68.9 488.1,69.1 488.7,70 489.5,70.6 490.3,71.7 490.9,72.1 491.7,73.4 492.2,73.8 492.7,74.9 493.4,75.6 494,76.7 494.6,77.6 494.9,78.6 495.5,80.5 496.3,82.4 496.8,84.3 497.6,87.1 498.2,89.7 499,92.6 499.5,95.7 500.2,99.1 501.2,102.1 501.7,105.9 502.7,109.3 503.3,112.7 504.1,116.4 505.1,119.9 505.7,123 506.7,126.5 507.3,129.8 508.1,132.8 508.5,136 509.2,138.7 509.9,142.3 510.6,145.6 511.3,149.2 511.8,152.7 512.6,155.9 513.2,158.5 513.9,162 514.6,165.2 515.6,168.4 516.5,172.2 517.4,175.2 518.3,179.1 519.4,182.5 520.4,185.4 521.6,188.8 522.7,191.8 523.9,195.4 524.9,198.9 526.1,202 527.1,204.9 528.4,207.5 529.9,209.6 531,211.4 532.5,213.5 533.8,215.4 535.2,216.7 536.9,218.4 538.2,219.6 539.2,220.4 540.5,221.5 541.8,222.2 543,222.5 544.3,223.1 545.7,223.4 547.2,223.9 548.7,224.5 550.7,224.8 552.7,225 554.9,225 557,224.9 559.6,225.4 562.4,225.8 564.9,225.4 566.9,225.8" fill="none" stroke="#5a1228" stroke-width="0.9" stroke-linejoin="round" stroke-linecap="round"/>
<rect x="314.7" y="29.5" width="252.8" height="203.4" fill="none" stroke="#000" stroke-width="1.6"/>
<path d="M544.5,232.9v-1.8 M521.5,232.9v-3.6 M498.6,232.9v-1.8 M475.6,232.9v-3.6 M452.6,232.9v-1.8 M429.6,232.9v-3.6 M406.6,232.9v-1.8 M383.6,232.9v-3.6 M360.7,232.9v-1.8 M337.7,232.9v-3.6" stroke="#000" stroke-width="1.3" fill="none"/>
<text x="337.7" y="247.6" font-family="Liberation Serif" font-weight="bold" font-size="12.5" text-anchor="middle">290</text>
<text x="383.6" y="247.6" font-family="Liberation Serif" font-weight="bold" font-size="12.5" text-anchor="middle">288</text>
<text x="429.6" y="247.6" font-family="Liberation Serif" font-weight="bold" font-size="12.5" text-anchor="middle">286</text>
<text x="475.6" y="247.6" font-family="Liberation Serif" font-weight="bold" font-size="12.5" text-anchor="middle">284</text>
<text x="521.5" y="247.6" font-family="Liberation Serif" font-weight="bold" font-size="12.5" text-anchor="middle">282</text>
<text x="567.5" y="247.6" font-family="Liberation Serif" font-weight="bold" font-size="12.5" text-anchor="middle">280</text>
<text x="441.1" y="266.4" font-family="Liberation Serif" font-weight="bold" font-size="13.2" text-anchor="middle">Binding Energy (eV)</text>
<text transform="translate(298.2,167.9) rotate(-90)" font-family="Liberation Serif" font-weight="bold" font-size="13">Intensity (a.u.)</text>
<text transform="translate(391.7,156) scale(1,1.12)" font-family="Liberation Serif" font-weight="bold" font-size="13.5" text-anchor="middle">286.5 eV</text>
<text transform="translate(392.7,173) scale(1,1.12)" font-family="Liberation Serif" font-weight="bold" font-size="13.5" text-anchor="middle">-C≡N</text>
<text transform="translate(416.2,82.8) scale(1,1.12)" font-family="Liberation Serif" font-weight="bold" font-size="13.5" text-anchor="middle">285.0 eV</text>
<text transform="translate(417,99.5) scale(1,1.12)" font-family="Liberation Serif" font-weight="bold" font-size="13.5" text-anchor="middle">-CH</text>
<text transform="translate(524.5,49.6) scale(1,1.12)" font-family="Liberation Serif" font-weight="bold" font-size="13.5" text-anchor="middle">284.3 eV</text>
<text transform="translate(525.6,66.1) scale(1,1.12)" font-family="Liberation Serif" font-weight="bold" font-size="13.5" text-anchor="middle">C-C</text>
<text transform="translate(534.7,89.8) scale(1,1.12)" font-family="Liberation Serif" font-weight="bold" font-size="13.5" text-anchor="middle">283.1 eV</text>
<text transform="translate(538.2,106) scale(1,1.12)" font-family="Liberation Serif" font-weight="bold" font-size="13.5" text-anchor="middle">-CH<tspan font-size="9.5" dy="3.5">2</tspan></text>
<line x1="401" y1="178.6" x2="414.6" y2="200" stroke="#2a2a2a" stroke-width="0.9"/>
<path d="M417.6,204.6L413,201L416.2,198.9Z" fill="#111"/>
<line x1="429.5" y1="109" x2="448.9" y2="135.2" stroke="#2a2a2a" stroke-width="0.9"/>
<path d="M452.2,139.6L447.4,136.3L450.4,134.1Z" fill="#111"/>
<line x1="504.4" y1="67.3" x2="471.6" y2="116.6" stroke="#2a2a2a" stroke-width="0.9"/>
<path d="M468.6,121.2L470.1,115.6L473.2,117.7Z" fill="#111"/>
<line x1="518.5" y1="105.8" x2="502.3" y2="114.9" stroke="#2a2a2a" stroke-width="0.9"/>
<path d="M497.5,117.6L501.4,113.2L503.2,116.6Z" fill="#111"/>
<text x="580" y="26.6" font-family="Liberation Sans" font-weight="bold" font-size="28">c</text>
<text x="618.5" y="55.6" font-family="Liberation Serif" font-weight="bold" font-size="17" text-anchor="start">N 1<tspan font-style="italic">s</tspan></text>
<polyline points="608,208.3 861.2,214" fill="none" stroke="#4070b8" stroke-width="1.3" stroke-linejoin="round" stroke-linecap="round"/>
<polyline points="607.9,207.7 611,207.7 615.5,207.8 620.5,207.9 625,207.9 628.8,207.9 632.3,207.9 635.9,207.9 640,207.9 644.6,207.8 649.7,207.7 654.9,207.6 660,207.4 665.2,207.2 670.5,207.1 675.6,206.9 680,206.6 683.7,206.3 686.8,205.9 689.6,205.4 692,204.9 694.1,204.3 695.7,203.7 697.1,203.1 698.6,202.4 700,201.7 701.4,201 702.7,200.3 704.3,199.4 706.2,198.4 708.3,197.2 710.4,195.9 712.4,194.5 714.2,192.9 715.8,191.2 717.3,189.4 718.8,187.2 720.2,184.7 721.5,181.9 722.6,178.9 723.7,175.9 724.6,172.8 725.5,169.6 726.2,166.3 726.9,163 727.6,159.7 728.2,156.3 728.8,153 729.4,150 730,147.4 730.6,145.1 731.2,142.8 731.8,140 732.5,136.5 733.2,132.6 733.9,128.7 734.6,125 735.2,121.8 735.8,118.8 736.4,115.9 737,113 737.6,110.2 738.2,107.6 738.8,104.9 739.5,102 740.2,98.8 740.9,95.5 741.7,92.1 742.4,89 743.1,86.1 743.9,83.3 744.6,80.7 745.3,78.5 746,76.6 746.6,75 747.2,73.7 747.8,72.6 748.3,71.8 748.8,71.3 749.3,71.1 749.8,71 750.3,71 750.8,71.2 751.3,71.6 751.9,72.3 752.5,73.4 753.1,74.8 753.8,76.5 754.4,78.5 755,80.9 755.7,83.6 756.3,86.5 756.9,89.5 757.5,92.5 758.1,95.7 758.6,98.9 759.2,102 759.7,104.9 760.3,107.8 760.8,110.6 761.3,113.5 761.8,116.4 762.3,119.4 762.8,122.3 763.3,125 763.8,127.6 764.3,130 764.8,132.3 765.3,134.5 765.8,136.5 766.3,138.3 766.8,140.1 767.2,142 767.6,144 768,146 768.3,148.1 768.7,150 769.2,151.8 769.6,153.6 770.1,155.3 770.6,157 771,158.5 771.4,160 771.8,161.5 772.2,163 772.7,164.7 773.3,166.5 773.9,168.2 774.5,170 775.1,171.7 775.7,173.3 776.4,175 777.1,176.7 777.9,178.5 778.7,180.4 779.5,182.2 780.3,184 781,185.6 781.8,187.2 782.6,188.8 783.6,190.5 785,192.4 786.6,194.5 788.3,196.6 790,198.5 791.5,200.1 793,201.6 794.6,202.9 796.5,204.2 798.6,205.4 800.9,206.5 803.4,207.4 806.2,208.3 809.2,209 812.5,209.6 816,210.2 820,210.6 824.5,211 829.5,211.2 834.8,211.5 840,211.7 845.7,211.9 851.9,212.2 857.4,212.4 861.2,212.5" fill="none" stroke="#3d937b" stroke-width="1.6" stroke-linejoin="round" stroke-linecap="round"/>
<polyline points="607.9,207.6 611,207.5 615.5,207 620.5,208.7 625,206.8 628.8,207.9 632.3,208.8 635.9,207 640,208 644.6,208.1 649.7,206.7 654.9,207.3 660,207.8 665.2,207.1 670.5,207.6 675.6,206.1 680,206 683.7,205.4 686.8,205.9 689.6,206.3 692,205.1 694.1,204.9 695.7,203.5 697.1,203.6 698.6,201.5 700,201.3 701.4,201.4 702.7,200.8 704.3,199.2 706.2,197.5 708.3,196.7 710.4,195.3 712.4,194.4 714.2,193.1 715.8,191.1 717.3,189.6 718.8,187.4 720.2,184.5 721.5,181.8 722.6,178.7 723.7,175.1 724.6,171.7 725.5,168.2 726.2,164.2 726.9,161 727.6,157.6 728.2,154.6 728.8,151.8 729.4,148.8 730,146.4 730.6,144.4 731.2,142.4 731.8,139.5 732.5,136.1 733.2,132.4 733.9,128.5 734.6,124.5 735.2,121.2 735.8,118.2 736.4,114.9 737,112.2 737.6,109.1 738.2,106.6 738.8,104 739.5,100.6 740.2,97.6 740.9,94.2 741.7,90.6 742.4,87.5 743.1,84.9 743.9,82 744.6,78.7 745.3,76.3 746,74.1 746.6,71.6 747.2,70.1 747.8,68.6 748.3,67.9 748.8,67.8 749.3,67.8 749.8,68.3 750.3,68.4 750.8,69.3 751.3,70.5 751.9,71.6 752.5,73.1 753.1,74.9 753.8,77.1 754.4,79.1 755,81.4 755.7,84.6 756.3,87.4 756.9,90.4 757.5,93.4 758.1,96.7 758.6,99.8 759.2,102.8 759.7,105.9 760.3,108.5 760.8,111.6 761.3,114 761.8,117.2 762.3,120.1 762.8,122.8 763.3,125.6 763.8,127.8 764.3,130.5 764.8,132.6 765.3,134.6 765.8,136.9 766.3,138.4 766.8,140.2 767.2,142.3 767.6,144 768,146.2 768.3,147.9 768.7,150.2 769.2,151.7 769.6,153.4 770.1,155.5 770.6,156.8 771,158.7 771.4,160.1 771.8,161.3 772.2,162.5 772.7,164.1 773.3,165.8 773.9,167.5 774.5,169.1 775.1,170.6 775.7,171.6 776.4,172.7 777.1,174.1 777.9,175.1 778.7,176.5 779.5,178.2 780.3,179.9 781,181.3 781.8,183.2 782.6,185.4 783.6,187.8 785,190.7 786.6,194.4 788.3,197.3 790,200 791.5,201.5 793,202.5 794.6,203.2 796.5,203.4 798.6,204.4 800.9,206.5 803.4,206.7 806.2,208.6 809.2,208.1 812.5,210.3 816,209.5 820,209.5 824.5,210.3 829.5,211.1 834.8,211.6 840,211.5 845.7,211.2 851.9,212.1 857.4,213.3 861.2,212.6" fill="none" stroke="#44524c" stroke-width="0.8" stroke-linejoin="round" stroke-linecap="round"/>
<rect x="607.2" y="29" width="254.8" height="205.1" fill="none" stroke="#000" stroke-width="1.6"/>
<path d="M838.8,234.1v-3.6 M815.7,234.1v-1.8 M792.5,234.1v-3.6 M769.3,234.1v-1.8 M746.2,234.1v-3.6 M723,234.1v-1.8 M699.9,234.1v-3.6 M676.7,234.1v-1.8 M653.5,234.1v-3.6 M630.4,234.1v-1.8" stroke="#000" stroke-width="1.3" fill="none"/>
<text x="607.2" y="248.4" font-family="Liberation Serif" font-weight="bold" font-size="12.5" text-anchor="middle">404</text>
<text x="653.5" y="248.4" font-family="Liberation Serif" font-weight="bold" font-size="12.5" text-anchor="middle">402</text>
<text x="699.9" y="248.4" font-family="Liberation Serif" font-weight="bold" font-size="12.5" text-anchor="middle">400</text>
<text x="746.2" y="248.4" font-family="Liberation Serif" font-weight="bold" font-size="12.5" text-anchor="middle">398</text>
<text x="792.5" y="248.4" font-family="Liberation Serif" font-weight="bold" font-size="12.5" text-anchor="middle">396</text>
<text x="838.8" y="248.4" font-family="Liberation Serif" font-weight="bold" font-size="12.5" text-anchor="middle">394</text>
<text x="734.6" y="269.7" font-family="Liberation Serif" font-weight="bold" font-size="13.2" text-anchor="middle">Binding Energy (eV)</text>
<text transform="translate(591.4,168.1) rotate(-90)" font-family="Liberation Serif" font-weight="bold" font-size="13">Intensity (a.u.)</text>
<text transform="translate(808.4,49.7) scale(1,1.12)" font-family="Liberation Serif" font-weight="bold" font-size="13.5" text-anchor="middle">397.9 eV</text>
<text transform="translate(809.4,66.8) scale(1,1.12)" font-family="Liberation Serif" font-weight="bold" font-size="13.5" text-anchor="middle">-C≡N</text>
<line x1="782.5" y1="60.6" x2="755.4" y2="69.7" stroke="#2a2a2a" stroke-width="0.9"/>
<path d="M750.2,71.4L754.8,67.9L756,71.5Z" fill="#111"/>
<text x="9.3" y="286.6" font-family="Liberation Sans" font-weight="bold" font-size="28">d</text>
<text x="44.3" y="315.2" font-family="Liberation Serif" font-weight="bold" font-size="17">Cu 2<tspan font-style="italic">p</tspan></text>
<polyline points="31.5,450.7 34.8,451 39.5,451.4 44.8,451.8 50,452.2 54.9,452.6 59.9,453 65,453.4 70,453.8 75,454.2 80,454.7 85,455.2 90,455.7 95,456.2 100,456.8 105,457.3 110,457.8 114.8,458.3 119.4,458.7 124.3,459.1 130,459.5 137,459.9 145,460.4 153,460.8 160,461.2 165.7,461.5 170.6,461.8 175.2,462 180,462.2 185.1,462.4 190.3,462.5 195.4,462.6 200,462.6 204.3,462.6 208.2,462.6 211.9,462.6 215,462.4 217.5,462.1 219.4,461.8 221.2,461.4 223,460.8 225.1,460.1 227.1,459.4 229.2,458.5 231.1,457.4 232.9,456.1 234.5,454.7 236.1,453.1 237.5,451.2 238.9,449.1 240.1,446.9 241.3,444.3 242.3,441.5 243.2,438.3 244.1,434.7 244.9,430.9 245.5,427.1 246,423.1 246.4,418.8 246.8,414.7 247.1,411 247.4,408.1 247.7,405.7 248,403.2 248.3,400 248.6,395.6 248.9,390.5 249.2,385.3 249.5,380.5 249.8,376.4 250.2,372.7 250.6,369.1 250.9,365.4 251.2,361.6 251.5,357.8 251.8,354 252.1,350.3 252.4,346.5 252.8,342.6 253.2,339 253.6,336 254.1,333.6 254.6,331.5 255.1,330.2 255.6,329.6 256.1,330 256.7,331.2 257.2,333.1 257.8,335.5 258.4,338.6 259,342.3 259.6,346.4 260.1,350.3 260.5,354.1 260.9,357.8 261.3,361.6 261.6,365.4 261.9,369.1 262.2,372.7 262.4,376.4 262.7,380.5 263,385.2 263.2,390.4 263.4,395.5 263.7,400 264,403.7 264.2,407 264.5,410 264.8,413 265.1,416.1 265.4,419.2 265.7,422.2 266,425 266.3,427.6 266.5,429.9 266.8,432.3 267.2,435.1 267.7,438.5 268.2,442.4 268.8,446.2 269.6,449.6 270.6,452.4 271.8,454.9 273,457.1 274.4,459.2 276,461.2 277.8,463 279.5,464.5 280.8,465.6 281.5,466.2 281.9,466.4 282.1,466.3 282.2,466.3" fill="none" stroke="#3a9a84" stroke-width="1.25" stroke-linejoin="round" stroke-linecap="round"/>
<polyline points="31.5,448.4 34.9,448.4 39.8,448.4 44.9,448.4 48.9,448.4 51.2,448.3 52.7,448.2 53.8,448 55,447.8 56.4,447.5 57.6,447.2 58.8,446.9 60,446.5 61.1,446.1 62.1,445.7 63,445.3 64,444.8 65,444.3 66,443.8 66.9,443.2 67.8,442.7 68.5,442.2 69.2,441.7 69.8,441.1 70.6,440.4 71.5,439.4 72.5,438.3 73.5,437.1 74.5,435.8 75.4,434.4 76.4,432.8 77.3,431.3 78.1,429.8 78.8,428.5 79.4,427.2 79.9,425.9 80.5,424.5 81.1,422.9 81.7,421.3 82.2,419.6 82.7,417.8 83.1,415.9 83.6,413.9 83.9,411.9 84.3,410 84.7,408.2 85,406.4 85.3,404.7 85.7,403.2 86.1,401.8 86.6,400.6 87,399.5 87.5,398.6 88,397.9 88.5,397.4 89,397.1 89.5,397 90,397.1 90.5,397.5 91,398 91.5,398.6 91.9,399.2 92.3,399.9 92.7,400.6 93,401.5 93.3,402.3 93.6,403.2 93.9,404.3 94.3,406 94.9,408.4 95.5,411.3 96.3,414.6 97,417.8 97.7,421.2 98.5,424.9 99.3,428.4 100,431.4 100.7,433.7 101.3,435.5 101.9,437 102.5,438.5 103.1,439.9 103.8,441.1 104.5,442.3 105.3,443.4 106.2,444.6 107.3,445.7 108.4,446.8 109.5,447.8 110.7,448.7 111.9,449.5 113.1,450.3 114.4,451 115.5,451.7 116.6,452.3 117.9,452.9 120,453.6 123.1,454.3 127,455.1 131.1,455.9 135,456.5 138.4,457 141.7,457.4 145,457.8 148.6,458.2 152.6,458.7 156.9,459.3 161.1,459.8 165,460.3 168.1,460.7 170.8,461.1 173.6,461.4 177.3,461.8 182.4,462.3 188.5,462.8 194.6,463.3 200,463.7 204.3,464 207.9,464.3 211.4,464.5 215,464.8 218.9,465.1 223,465.5 227.1,465.9 231.1,466.4 235.1,466.9 239.1,467.5 243.1,468.1 247.1,468.8 251.2,469.6 255.3,470.4 259.4,471.3 263.2,472 266.8,472.6 270.2,473.2 273.3,473.6 276,474 278.2,474.2 279.9,474.3 281.2,474.3 282.2,474.3" fill="none" stroke="#8060b8" stroke-width="1.25" stroke-linejoin="round" stroke-linecap="round"/>
<polyline points="31.6,445.1 32.5,448.1 33.5,448.3 34.6,446.5 35.6,449.5 36.5,445.7 37.6,445.9 38.3,440.7 39.4,441.5 40.3,449.7 41.3,446.3 42.4,453.9 43.2,443.7 44.4,449 45.5,443.3 46.7,447.4 47.5,445.1 48.2,445 49.4,447.4 50.1,443.3 51.1,446.1 51.9,447.7 52.6,446 53.8,447.6 54.7,447.8 55.8,445.8 56.6,447.8 57.6,446.1 58.5,446.7 59.3,446.1 60.2,440.8 61.2,446.5 62,447.1 62.8,452.5 63.8,443.2 64.5,439.2 65.7,443.1 66.8,445.3 67.7,439 68.7,443.8 69.4,441.5 70.2,443.9 71,440.5 72.2,432.5 73.4,434.7 74.1,428.7 75,433.8 75.7,429.7 76.9,433 78.1,429.9 79.1,427.8 80.2,420.2 81.3,418.3 82.3,419.8 83.2,415.3 84,409.6 84.9,407.4 85.8,401.1 86.8,394.8 87.8,397 88.8,393.9 89.9,395.7 90.9,395.5 91.7,400.1 92.6,398.1 93.4,395.5 94.2,405.6 95.4,411.2 96.5,414.5 97.4,415.8 98.3,421.6 99.3,425 100.5,431.5 101.3,437.1 102.3,434.6 103.1,437.8 104,441 104.7,443 105.8,442.4 106.9,443.5 107.8,446.6 108.8,446.5 109.8,448.1 110.8,447.8 111.7,449.9 112.5,447.7 113.2,446.7 114.3,449.1 115.2,451.3 116.3,451 117,447.3 118.1,453.9 119.3,449.8 120.2,451.3 121.4,453.7 122.1,456.8 123.1,447.3 124.3,447.6 125.3,450.1 126.4,455.4 127.3,450.8 128.1,453 129.2,454.4 130.4,457.5 131.2,456.4 132.2,456.9 132.9,457 133.6,455.3 134.6,453.7 135.6,455.5 136.8,457.1 137.5,455.2 138.6,451 139.4,451.1 140.6,455.5 141.3,458.7 142.4,456.5 143.3,458.8 144.4,456.1 145.1,453.9 146.2,455.1 147.1,450 148.2,458 149.3,456.2 150.1,450.9 150.9,451.3 151.9,451.4 152.9,459.3 153.6,451.7 154.5,460.3 155.4,458 156.6,456.2 157.7,458.5 158.7,459.1 159.6,453.5 160.8,457.1 161.8,460.1 162.7,459.8 163.5,454.4 164.5,461.5 165.4,464.6 166.1,464.7 167.2,458.7 168.1,456.3 169,463.4 170.2,459.7 171.3,460.9 172.4,458.5 173.5,460.5 174.2,458.5 175.2,462.3 176.2,460.7 177.4,459.8 178.3,459.2 179.2,463.5 180.3,460.8 181,458.6 181.9,467.9 182.6,468 183.6,462.6 184.6,461.6 185.6,460.4 186.6,463 187.5,460.7 188.6,458.8 189.6,460.7 190.5,460.5 191.3,463.6 192.4,461.5 193.4,461.1 194.3,461.3 195.2,461.1 196.2,460.3 197.3,473.7 198.4,473.8 199.5,457.5 200.3,456.6 201,460.4 201.8,459.7 202.9,463.2 203.9,462.4 204.7,461.1 205.6,461.3 206.5,464.2 207.5,461.7 208.4,461 209.3,461.5 210.3,457.2 211.3,470.2 212.1,470.3 213.3,460.5 214.3,457.2 215.2,463.9 216.1,459 217,462.9 218,463.1 219.1,459.7 220.2,462.9 221.5,458.2 222.7,461.3 224,456.2 225.5,457.5 227,450.7 228.2,454.3 229.5,448.2 230.8,450.5 232,445.5 233.1,447.6 234.3,442.6 235.5,443.5 236.9,437.7 238.3,438.1 239.6,433.4 240.9,433.9 242.5,428 243.8,427.9 245.3,419.9 246.7,417.2 248.2,398.1 249,386.9 249.8,377.1 250.6,369.2 251.4,360.5 252.2,350.2 253,341.7 253.8,335.5 254.6,331.2 255.4,328.3 256.2,327.5 257,329.4 257.8,332.7 258.6,337.2 259.4,342.8 260.2,350 261,357.2 261.8,365.9 262.6,376.3 263.4,391.8 264.2,404.6 265,412.6 265.8,421.5 266.6,430.8 267.4,440.7 268.2,446.6 269.2,456.7 270.5,457.3 271.8,464.8 273,462.2 274.2,469.3 275.4,466.4 276.7,473.6 277.7,470 278.8,473.7 280.3,466 281.3,471.2" fill="none" stroke="#38383f" stroke-width="0.85" stroke-linejoin="round" stroke-linecap="round"/>
<rect x="30.7" y="287.6" width="252.2" height="203.1" fill="none" stroke="#000" stroke-width="1.6"/>
<path d="M266.1,490.7v-3.6 M245.1,490.7v-1.8 M224.1,490.7v-3.6 M203,490.7v-1.8 M182,490.7v-3.6 M161,490.7v-1.8 M140,490.7v-3.6 M119,490.7v-1.8 M98,490.7v-3.6 M76.9,490.7v-1.8 M55.9,490.7v-3.6 M34.9,490.7v-1.8" stroke="#000" stroke-width="1.3" fill="none"/>
<text x="55.9" y="505.3" font-family="Liberation Serif" font-weight="bold" font-size="12.5" text-anchor="middle">955</text>
<text x="98" y="505.3" font-family="Liberation Serif" font-weight="bold" font-size="12.5" text-anchor="middle">950</text>
<text x="140" y="505.3" font-family="Liberation Serif" font-weight="bold" font-size="12.5" text-anchor="middle">945</text>
<text x="182" y="505.3" font-family="Liberation Serif" font-weight="bold" font-size="12.5" text-anchor="middle">940</text>
<text x="224.1" y="505.3" font-family="Liberation Serif" font-weight="bold" font-size="12.5" text-anchor="middle">935</text>
<text x="266.1" y="505.3" font-family="Liberation Serif" font-weight="bold" font-size="12.5" text-anchor="middle">930</text>
<text x="156.8" y="524.6" font-family="Liberation Serif" font-weight="bold" font-size="13.2" text-anchor="middle">Binding Energy (eV)</text>
<text transform="translate(14,425.5) rotate(-90)" font-family="Liberation Serif" font-weight="bold" font-size="13">Intensity (a.u.)</text>
<text x="96.2" y="351.2" font-family="Liberation Serif" font-weight="bold" font-size="13.5" text-anchor="start">951.1 eV</text>
<text x="96.2" y="367.7" font-family="Liberation Serif" font-weight="bold" font-size="13.5">Cu 2<tspan font-style="italic">p</tspan><tspan font-size="10" dy="3.6">1/2</tspan></text>
<text x="183.2" y="303.8" font-family="Liberation Serif" font-weight="bold" font-size="13.5" text-anchor="start">931.2 eV</text>
<text x="183.2" y="320.4" font-family="Liberation Serif" font-weight="bold" font-size="13.5">Cu 2<tspan font-style="italic">p</tspan><tspan font-size="10" dy="3.6">3/2</tspan></text>
<line x1="103.6" y1="375.4" x2="93.3" y2="390.6" stroke="#2a2a2a" stroke-width="0.9"/>
<path d="M90.2,395.1L91.7,389.5L94.9,391.6Z" fill="#111"/>
<line x1="236.2" y1="321.2" x2="250.6" y2="327.6" stroke="#2a2a2a" stroke-width="0.9"/>
<path d="M255.6,329.8L249.8,329.3L251.3,325.8Z" fill="#111"/>
<text x="291.8" y="286.8" font-family="Liberation Sans" font-weight="bold" font-size="28">e</text>
<text x="327.8" y="317" font-family="Liberation Serif" font-weight="bold" font-size="17" text-anchor="start">O 1<tspan font-style="italic">s</tspan></text>
<polyline points="315.8,476.5 565.9,477.9" fill="none" stroke="#4a80c0" stroke-width="1.3" stroke-linejoin="round" stroke-linecap="round"/>
<polyline points="315.8,475.6 318.4,475.5 322.3,475.4 326.4,475.3 330,475.2 332.7,475.1 334.9,475 337.2,474.9 340,474.7 343.4,474.5 347.2,474.3 351.1,474 355,473.6 358.9,473.1 362.9,472.4 366.7,471.8 370,471.1 372.5,470.5 374.5,469.9 376.2,469.3 378,468.6 379.9,467.9 381.8,467.2 383.6,466.3 385.6,465.1 387.7,463.5 389.9,461.6 392.1,459.5 394.3,457.3 396.5,455.1 398.6,452.8 400.7,450.3 402.9,447.7 405.2,444.8 407.5,441.6 409.7,438.4 411.6,435.6 413.1,433.3 414.4,431.3 415.4,429.4 416.5,427.5 417.5,425.7 418.4,424.1 419.3,422.4 420.3,420 421.4,416.8 422.7,413.1 423.9,409.1 424.9,405.5 425.7,402.2 426.3,399.1 426.8,396.1 427.4,393 428,389.9 428.6,386.8 429.2,383.8 429.8,380.8 430.4,377.9 431.1,375.2 431.7,372.4 432.3,369.8 432.9,367.2 433.5,364.7 434.1,362.3 434.7,359.9 435.3,357.5 435.9,355.1 436.6,352.8 437.2,350.6 437.8,348.6 438.4,346.6 439.1,344.8 439.7,343.2 440.3,341.8 441,340.5 441.6,339.4 442.3,338.6 443,338 443.7,337.6 444.5,337.4 445.2,337.4 445.9,337.5 446.6,337.8 447.3,338.4 448,339.2 448.6,340.3 449.2,341.7 449.7,343.4 450.3,345.5 450.9,348.1 451.4,351.1 452,354.3 452.6,357.5 453.2,360.6 453.8,363.7 454.4,366.8 455,369.8 455.6,372.6 456.3,375.3 456.9,378 457.5,380.8 458.1,383.8 458.8,386.8 459.4,389.9 459.9,393 460.3,396.1 460.6,399.1 460.9,402.2 461.4,405.5 462.2,409 463.1,412.8 464.1,416.5 465.1,420 466,423.3 466.8,426.4 467.6,429.5 468.5,432.5 469.4,435.6 470.4,438.6 471.3,441.6 472.3,444.3 473.3,446.7 474.4,449 475.4,451 476.5,453 477.6,454.9 478.7,456.7 479.8,458.4 480.9,459.9 482,461.3 483.1,462.5 484.3,463.6 485.5,464.8 486.9,466 488.3,467.3 489.8,468.4 491.3,469.4 492.8,470.1 494.3,470.7 495.8,471.2 497.5,471.6 499.2,472 500.8,472.3 502.7,472.6 505.2,472.9 508.3,473.3 511.8,473.8 515.8,474.2 520,474.6 524.5,474.9 529.3,475.2 534.5,475.4 540,475.6 546.7,475.8 554.2,476 561.1,476.1 565.9,476.2" fill="none" stroke="#d24a4a" stroke-width="1.6" stroke-linejoin="round" stroke-linecap="round"/>
<polyline points="315.8,475.8 318.4,476 322.3,476 326.4,476.1 330,475.6 332.7,475.9 334.9,474.1 337.2,474.8 340,475.5 343.4,474.8 347.2,475 351.1,473.3 355,473.5 358.9,472.6 362.9,472.5 366.7,471.9 370,470.2 372.5,470 374.5,469.5 376.2,470 378,469.1 379.9,467.3 381.8,467.7 383.6,465.7 385.6,465.3 387.7,462.8 389.9,460.7 392.1,460.1 394.3,456.8 396.5,454.9 398.6,453.1 400.7,450.5 402.9,447.5 405.2,444.6 407.5,440.3 409.7,437 411.6,434.6 413.1,433.6 414.4,432.1 415.4,430.9 416.5,429.3 417.5,427.2 418.4,425.4 419.3,423.2 420.3,420.4 421.4,416.9 422.7,413.1 423.9,409.2 424.9,405.2 425.7,402.3 426.3,399 426.8,395.9 427.4,393.2 428,389.9 428.6,386.7 429.2,383.7 429.8,380.9 430.4,377.7 431.1,375.4 431.7,372.1 432.3,369.9 432.9,367.3 433.5,364.3 434.1,362.2 434.7,359.4 435.3,357 435.9,354.1 436.6,351.7 437.2,349.4 437.8,347.8 438.4,345.3 439.1,343.8 439.7,342 440.3,340.2 441,338 441.6,336.3 442.3,335.2 443,335 443.7,335 444.5,336.1 445.2,336.9 445.9,337.5 446.6,337.5 447.3,338.6 448,338.9 448.6,340.2 449.2,341.8 449.7,343.7 450.3,345.4 450.9,348.3 451.4,351.2 452,354.2 452.6,357.4 453.2,360.4 453.8,363.5 454.4,366.6 455,369.9 455.6,372.9 456.3,375.1 456.9,377.7 457.5,381.1 458.1,383.8 458.8,386.7 459.4,389.7 459.9,393.1 460.3,396.3 460.6,399.1 460.9,402.2 461.4,405.2 462.2,409.3 463.1,412.5 464.1,416.5 465.1,420.2 466,423 466.8,426.5 467.6,429.5 468.5,432.2 469.4,435 470.4,437.2 471.3,439.8 472.3,442 473.3,444.8 474.4,446.9 475.4,449.6 476.5,452.5 477.6,454.7 478.7,456.9 479.8,458.4 480.9,460.2 482,462 483.1,463.4 484.3,464.8 485.5,466.3 486.9,467.3 488.3,468.4 489.8,469.4 491.3,470.6 492.8,470.7 494.3,471.2 495.8,471.8 497.5,472.3 499.2,473.3 500.8,474.5 502.7,474.6 505.2,473.3 508.3,473.9 511.8,474.3 515.8,474.6 520,474.9 524.5,475.4 529.3,474.9 534.5,475.8 540,475.2 546.7,475.8 554.2,476.4 561.1,476.4 565.9,475.8" fill="none" stroke="#4a3f46" stroke-width="0.8" stroke-linejoin="round" stroke-linecap="round"/>
<rect x="315" y="288.7" width="251.7" height="202.2" fill="none" stroke="#000" stroke-width="1.6"/>
<path d="M547.3,490.9v-1.8 M528,490.9v-3.6 M508.6,490.9v-1.8 M489.3,490.9v-3.6 M469.9,490.9v-1.8 M450.5,490.9v-3.6 M431.2,490.9v-1.8 M411.8,490.9v-3.6 M392.4,490.9v-1.8 M373.1,490.9v-3.6 M353.7,490.9v-1.8 M334.4,490.9v-3.6" stroke="#000" stroke-width="1.3" fill="none"/>
<text x="334.4" y="505.6" font-family="Liberation Serif" font-weight="bold" font-size="12.5" text-anchor="middle">536</text>
<text x="373.1" y="505.6" font-family="Liberation Serif" font-weight="bold" font-size="12.5" text-anchor="middle">534</text>
<text x="411.8" y="505.6" font-family="Liberation Serif" font-weight="bold" font-size="12.5" text-anchor="middle">532</text>
<text x="450.5" y="505.6" font-family="Liberation Serif" font-weight="bold" font-size="12.5" text-anchor="middle">530</text>
<text x="489.3" y="505.6" font-family="Liberation Serif" font-weight="bold" font-size="12.5" text-anchor="middle">528</text>
<text x="528" y="505.6" font-family="Liberation Serif" font-weight="bold" font-size="12.5" text-anchor="middle">526</text>
<text x="566.7" y="505.6" font-family="Liberation Serif" font-weight="bold" font-size="12.5" text-anchor="middle">524</text>
<text x="440.9" y="524.3" font-family="Liberation Serif" font-weight="bold" font-size="13.2" text-anchor="middle">Binding Energy (eV)</text>
<text transform="translate(298.5,425.8) rotate(-90)" font-family="Liberation Serif" font-weight="bold" font-size="13">Intensity (a.u.)</text>
<text x="526.3" y="306.3" font-family="Liberation Serif" font-weight="bold" font-size="13.5" text-anchor="middle">530.3 eV</text>
<text x="525.8" y="323" font-family="Liberation Serif" font-weight="bold" font-size="13.5" text-anchor="middle">Metal oxide</text>
<line x1="485.1" y1="324.7" x2="450.6" y2="335.9" stroke="#2a2a2a" stroke-width="0.9"/>
<path d="M445.4,337.6L450,334.1L451.2,337.7Z" fill="#111"/>
</svg>
</body></html>
